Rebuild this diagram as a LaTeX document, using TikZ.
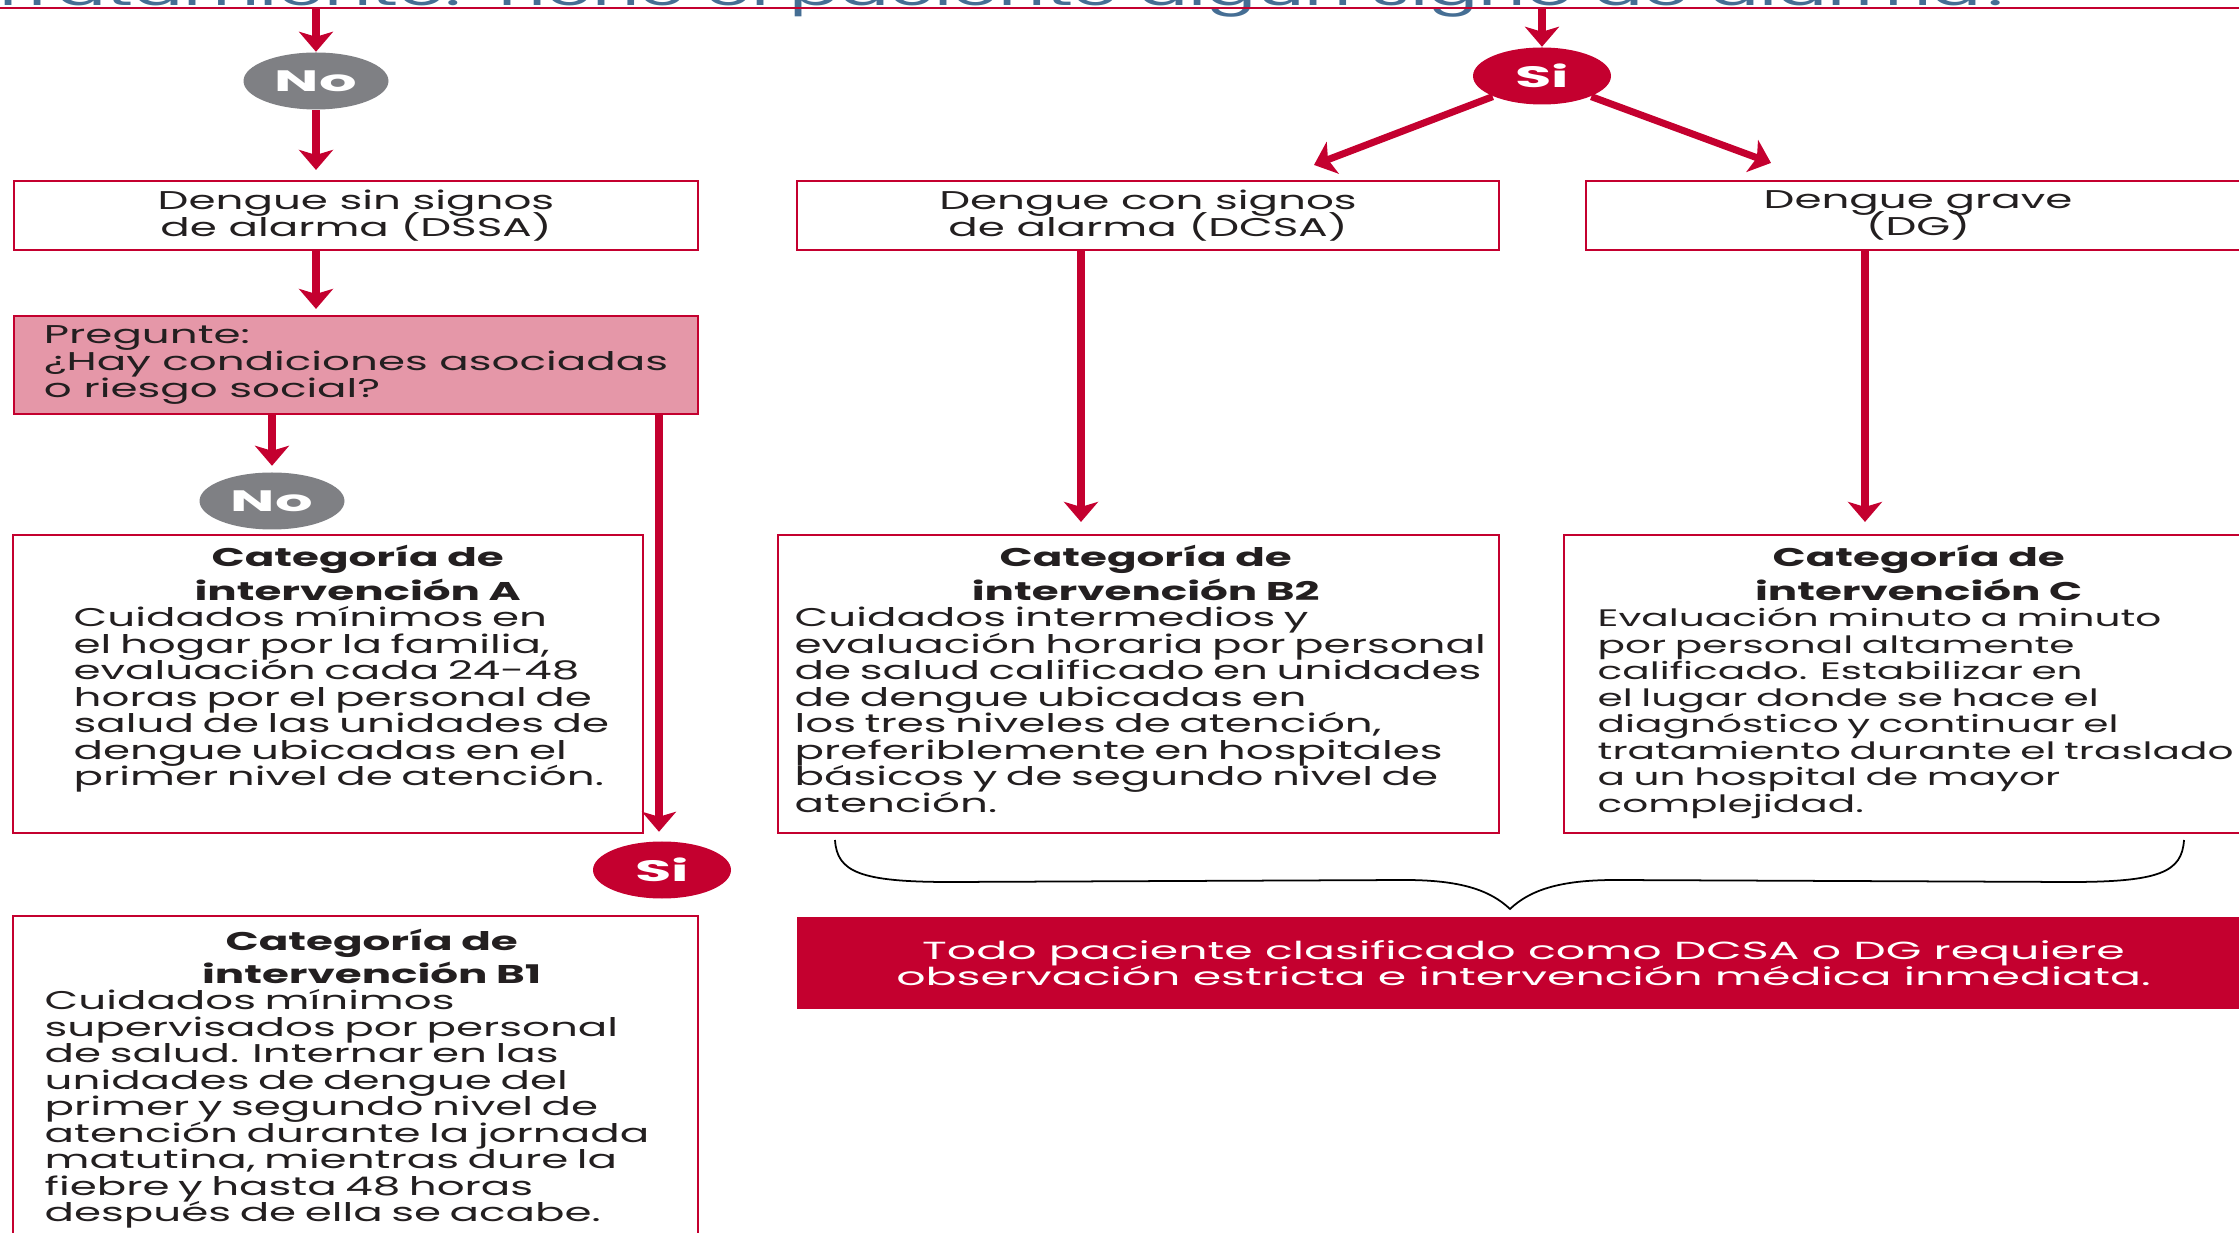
\documentclass[tikz,border=0pt]{standalone}
\usepackage{fontspec}
\setmainfont[FakeStretch=1.7]{Poppins}
\newfontfamily\rojafont[FakeStretch=1.85]{Poppins}
\newfontfamily\pildfont[FakeStretch=2.0]{Poppins}
\usetikzlibrary{arrows.meta,positioning,calc,shapes.geometric}
\definecolor{dred}{HTML}{C4002F}
\definecolor{dpink}{HTML}{E597A8}
\definecolor{dgray}{HTML}{7F8084}
\definecolor{dblue}{HTML}{456E94}
\definecolor{dink}{HTML}{231F20}
\lineskiplimit=-20pt \lineskip=0pt
\normallineskiplimit=-20pt \normallineskip=0pt
\tikzset{
  caja/.style={draw=dred,fill=white,line width=0.6pt,inner sep=0pt,align=center,text=dink,font=\fontsize{7.3pt}{7.7pt}\selectfont},
  preg/.style={caja,fill=dpink,align=left,minimum width=6.84cm,minimum height=0.98cm},
  cat/.style={draw=dred,fill=white,line width=0.6pt,inner sep=0pt,minimum height=2.98cm},
  cuerpo/.style={anchor=base west,inner sep=0pt,text=dink,font=\fontsize{7.3pt}{7.55pt}\selectfont},
  pild/.style={ellipse,inner sep=0pt,minimum height=0.57cm,text=white,font=\pildfont\bfseries\fontsize{8.4pt}{8.4pt}\selectfont},
  si/.style={pild,fill=dred,minimum width=1.38cm},
  no/.style={pild,fill=dgray,minimum width=1.45cm},
  arr/.style={-{Stealth[length=0.2cm,width=0.34cm,inset=0.05cm]},line width=2pt,draw=dred},
  llave/.style={draw=black,line width=0.5pt},
}
\newcommand{\titfont}{\bfseries\fontsize{7.3pt}{9.4pt}\selectfont}
\newcommand{\cattit}[2]{\lineskiplimit=-20pt\lineskip=0pt
  {\titfont\makebox[#1][c]{Categoría de}\\\makebox[#1][c]{intervención #2}\par}}
\begin{document}
\begin{tikzpicture}
  \useasboundingbox (0,0) rectangle (22.39,-12.33);
  % cabecera cortada
  \node[anchor=base west,inner sep=0pt,text=dblue,font=\fontsize{12.4pt}{12.4pt}\selectfont] (tit) at (-0.12,-0.06) {Tratamiento: Tiene el paciente algún signo de alarma?};
  \draw[dred,line width=0.6pt] (0,-0.08) -- (22.39,-0.08);
  \coordinate (topL) at (3.16,-0.08);
  \coordinate (topR) at (15.42,-0.08);
  % primera fila
  \node[no] (no1) at (3.16,-0.81) {No};
  \node[si] (si1) at (15.42,-0.76) {Si};
  \node[caja,minimum width=6.84cm,minimum height=0.69cm] (dssa) at (3.56,-2.155) {Dengue sin signos\\de alarma (DSSA)};
  \node[caja,minimum width=7.02cm,minimum height=0.69cm] (dcsa) at (11.48,-2.155) {Dengue con signos\\de alarma (DCSA)};
  \node[caja,minimum width=6.64cm,minimum height=0.69cm] (dg) at (19.18,-2.155) {Dengue grave\\(DG)};
  \node[preg] (pre) at (3.56,-3.65) {Pregunte:\\¿Hay condiciones asociadas\\o riesgo social?};
  \node[no] (no2) at (2.72,-5.01) {No};
  % categorias
  \node[cat,minimum width=6.30cm] (catA) at (3.28,-6.84) {};
  \node[cat,minimum width=7.21cm] (catB2) at (11.385,-6.84) {};
  \node[cat,minimum width=6.86cm] (catC) at (19.07,-6.84) {};
  \node[si] (si2) at (6.62,-8.70) {Si};
  \node[cat,minimum width=6.85cm,minimum height=3.29cm] (catB1) at (3.555,-10.805) {};
  \node[cuerpo,text width=6.8cm] (txtA) at (0.73,-5.67) {\cattit{5.68cm}{A}
    Cuidados mínimos en\\el hogar por la familia,\\evaluación cada 24-48\\horas por el personal de\\salud de las unidades de\\dengue ubicadas en el\\primer nivel de atención.};
  \node[cuerpo,text width=8cm] (txtB2) at (7.94,-5.67) {\cattit{7.02cm}{B2}
    Cuidados intermedios y\\evaluación horaria por personal\\de salud calificado en unidades\\de dengue ubicadas en\\los tres niveles de atención,\\preferiblemente en hospitales\\básicos y de segundo nivel de\\atención.};
  \node[cuerpo,text width=7.5cm] (txtC) at (15.97,-5.67) {\cattit{6.42cm}{C}
    \fontsize{6.8pt}{7.55pt}\selectfont
    Evaluación minuto a minuto\\por personal altamente\\calificado. Estabilizar en\\el lugar donde se hace el\\diagnóstico y continuar el\\tratamiento durante el traslado\\a un hospital de mayor\\complejidad.};
  \node[cuerpo,text width=7.5cm] (txtB1) at (0.44,-9.50) {\cattit{6.54cm}{B1}
    Cuidados mínimos\\supervisados por personal\\de salud. Internar en las\\unidades de dengue del\\primer y segundo nivel de\\atención durante la jornada\\matutina, mientras dure la\\fiebre y hasta 48 horas\\después de ella se acabe.};
  % aviso final
  \node[fill=dred,text=white,inner sep=0pt,minimum width=14.53cm,minimum height=0.92cm,align=center,font=\rojafont\fontsize{7.05pt}{7.3pt}\selectfont] (aviso) at (15.235,-9.63) {Todo paciente clasificado como DCSA o DG requiere\\observación estricta e intervención médica inmediata.};
  \draw[llave] (8.35,-8.40) .. controls (8.37,-8.72) and (8.6,-8.82) .. (9.5,-8.82) -- (14.05,-8.80)
    .. controls (14.6,-8.80) and (14.9,-8.90) .. (15.10,-9.09)
    .. controls (15.3,-8.90) and (15.6,-8.80) .. (16.15,-8.80) -- (20.7,-8.82)
    .. controls (21.6,-8.82) and (21.82,-8.72) .. (21.84,-8.40);
  % flechas
  \draw[arr] (topL) -- (no1);
  \draw[arr] (topR) -- (si1);
  \draw[arr,shorten >=0.1cm] (no1.south) -- (no1.south |- dssa.north);
  \draw[arr,shorten >=0.06cm] (dssa.south -| no1) -- (pre.north -| no1);
  \draw[arr,shorten >=0.06cm] (pre.south -| no2) -- (no2.north);
  \draw[arr,line width=2.3pt,shorten >=0.09cm] (pre.south -| 6.59,0) -- (si2.north -| 6.59,0);
  \draw[arr] (si1.south west) -- ([shift={(1.66,0.15)}]dcsa.north);
  \draw[arr] (si1.south east) -- ([shift={(-1.47,0.17)}]dg.north);
  \draw[arr,shorten >=0.12cm] ([xshift=-0.67cm]dcsa.south) -- ([xshift=-0.67cm]dcsa.south |- catB2.north);
  \draw[arr,shorten >=0.12cm] ([xshift=-0.53cm]dg.south) -- ([xshift=-0.53cm]dg.south |- catC.north);
\end{tikzpicture}
\end{document}
